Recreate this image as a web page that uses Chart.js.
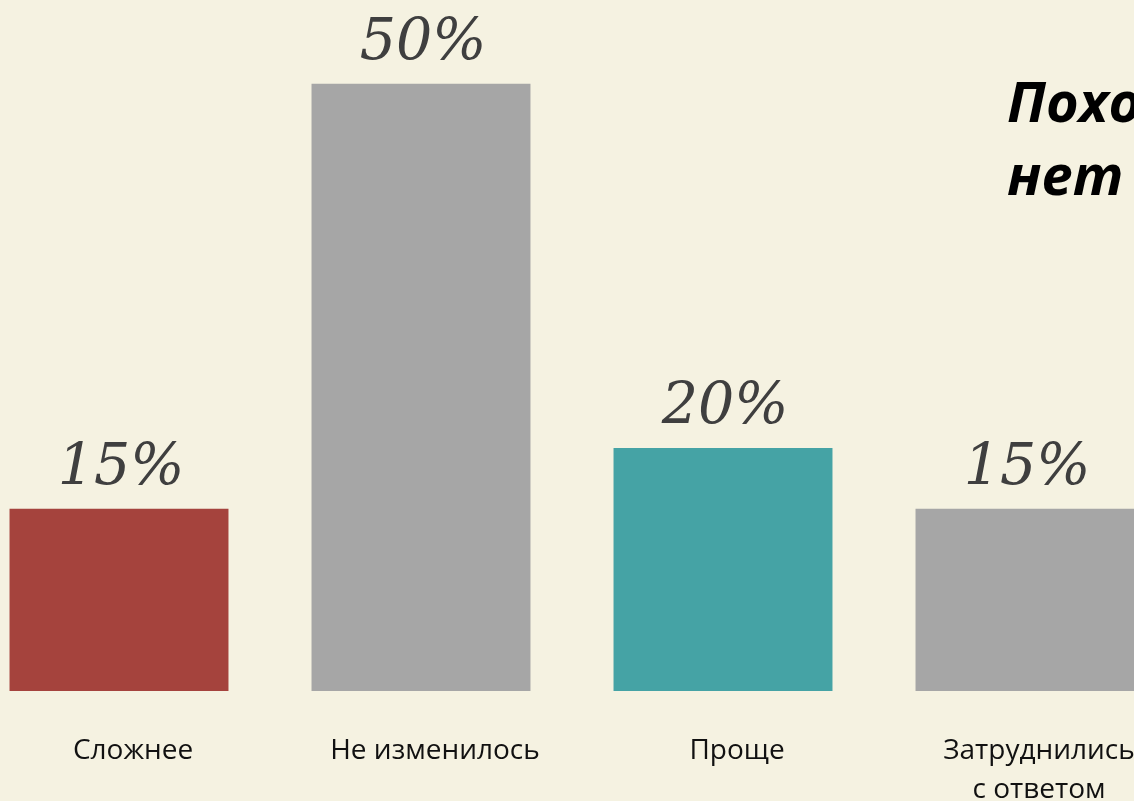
<!DOCTYPE html>
<html>
<head>
<meta charset="utf-8">
<script src="https://cdn.jsdelivr.net/npm/chart.js@4.4.1/dist/chart.umd.min.js"></script>
<style>
  html, body { margin: 0; padding: 0; width: 1134px; height: 801px; overflow: hidden; background: #F5F2E1; }
  #wrap { position: absolute; left: -32px; top: 0; width: 1208px; height: 801px; }
  #title {
    position: absolute; left: 1007px; top: 64px; white-space: nowrap;
    font-family: "Open Sans", sans-serif; font-weight: 700; font-style: italic;
    font-size: 56px; line-height: 73px; color: #000;
  }
</style>
</head>
<body>
<div id="wrap"><canvas id="chart"></canvas></div>
<div id="title">Похоже, разницы<br>нет</div>
<script>
const categories = ["Сложнее", "Не изменилось", "Проще", ["Затруднились", "с ответом"]];
const values = [15, 50, 20, 15];
const barColors = ["#A5433D", "#A6A6A6", "#45A3A5", "#A6A6A6"];

// value labels above bars (no datalabels plugin available)
const valueLabels = {
  id: "valueLabels",
  afterDatasetsDraw(chart) {
    const { ctx } = chart;
    const meta = chart.getDatasetMeta(0);
    ctx.save();
    ctx.font = "italic 57px 'DejaVu Serif', serif";
    ctx.fillStyle = "#3F3F3F";
    ctx.textAlign = "center";
    ctx.textBaseline = "middle";
    meta.data.forEach((bar, i) => {
      ctx.fillText(values[i] + "%", bar.x + 2, bar.y - 40);
    });
    ctx.restore();
  }
};

new Chart(document.getElementById("chart"), {
  type: "bar",
  data: {
    labels: categories,
    datasets: [{
      data: values,
      backgroundColor: barColors,
      barPercentage: 0.725,
      categoryPercentage: 1
    }]
  },
  options: {
    responsive: true,
    maintainAspectRatio: false,
    animation: false,
    layout: { padding: 0 },
    plugins: { legend: { display: false }, tooltip: { enabled: false } },
    scales: {
      x: {
        grid: { display: false },
        border: { display: false },
        ticks: {
          color: "#111",
          padding: 32,
          labelOffset: 14,
          font: { family: "'Open Sans', sans-serif", size: 28, lineHeight: 1.4 }
        },
        afterFit(scale) { scale.height = 110; }
      },
      y: { display: false, min: 0, max: 56.9 }
    }
  },
  plugins: [valueLabels]
});
</script>
</body>
</html>
